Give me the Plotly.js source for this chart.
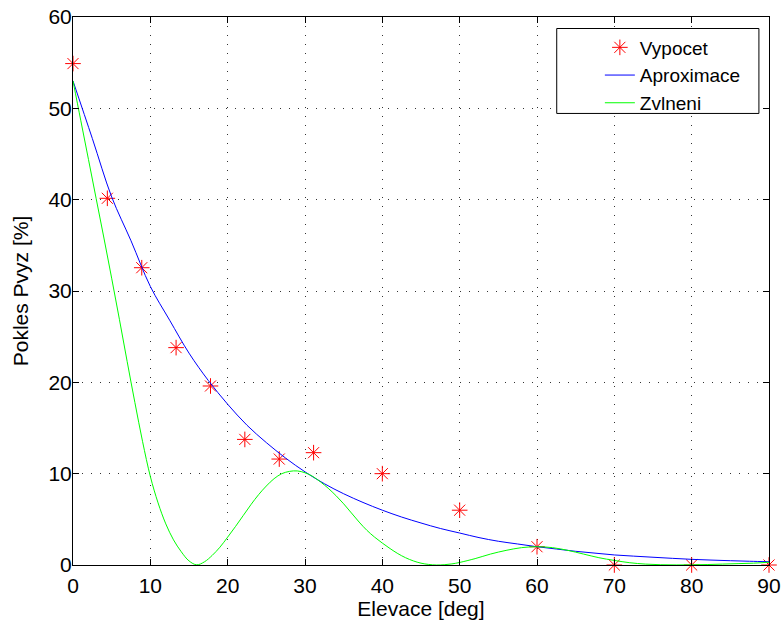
<!DOCTYPE html>
<html>
<head>
<meta charset="utf-8">
<script src="https://cdn.plot.ly/plotly-3.0.1.min.js"></script>
<style>html,body{margin:0;padding:0;background:#fff;}#chart{width:781px;height:622px;}</style>
</head>
<body>
<div id="chart"></div>
<script>
// Computed points (Vypocet)
var vypocetX = [0, 4.44, 8.89, 13.33, 17.78, 22.22, 26.67, 31.11, 40, 50, 60, 70, 80, 90];
var vypocetY = [54.9, 40.15, 32.55, 23.8, 19.6, 13.75, 11.6, 12.3, 10.0, 6.0, 2.0, 0, 0, 0];

// Approximation curve (Aproximace)
var aproxX = [0, 2.5, 5, 7.5, 10, 12.5, 15, 17.5, 20, 22.5, 25, 27.5, 30, 32.5, 35, 37.5, 40, 42.5, 45, 47.5, 50, 52.5, 55, 57.5, 60, 62.5, 65, 67.5, 70, 72.5, 75, 77.5, 80, 82.5, 85, 87.5, 90];
var aproxY = [53, 46.7, 40.3, 35.5, 30.5, 26.8, 23.2, 20.2, 17.6, 15.3, 13.4, 11.7, 10.2, 8.9, 7.8, 6.85, 6.0, 5.25, 4.6, 4.0, 3.5, 3.0, 2.6, 2.3, 2.0, 1.75, 1.5, 1.3, 1.1, 0.97, 0.85, 0.73, 0.62, 0.54, 0.47, 0.41, 0.36];

// Ripple curve (Zvlneni)
var zvlX = [0, 1, 2, 3, 4, 5, 6, 7, 8, 9, 10, 11, 12, 13, 14, 15, 16, 17, 18, 19, 20, 21, 22, 23, 24, 25, 26, 27, 28, 29, 30, 31, 32, 33, 34, 35, 36, 37, 38, 39, 40, 41, 42, 43, 44, 45, 46, 47, 48, 49, 50, 52, 54, 56, 58, 60, 62, 64, 66, 68, 70, 72, 74, 76, 78, 80, 82, 84, 86, 88, 90];
var zvlY = [53, 48.7, 44.4, 40.1, 35.8, 31.4, 26.9, 22.3, 17.8, 13.5, 9.7, 6.8, 4.5, 2.75, 1.45, 0.45, 0.02, 0.35, 1.05, 1.95, 3.05, 4.2, 5.4, 6.6, 7.7, 8.65, 9.45, 10.0, 10.25, 10.3, 10.1, 9.7, 9.1, 8.4, 7.6, 6.7, 5.7, 4.7, 3.8, 3.05, 2.4, 1.8, 1.25, 0.8, 0.45, 0.2, 0.06, 0.0, 0.03, 0.12, 0.28, 0.7, 1.2, 1.6, 1.9, 2.0, 1.9, 1.6, 1.2, 0.8, 0.5, 0.25, 0.1, 0.03, 0.01, 0.02, 0.05, 0.1, 0.15, 0.2, 0.3];

var xTicks = [0, 10, 20, 30, 40, 50, 60, 70, 80, 90];
var yTicks = [0, 10, 20, 30, 40, 50, 60];

var FONT = 'Liberation Sans, Arial, Helvetica, sans-serif';
var FS = 21;

var traces = [
  {x: vypocetX, y: vypocetY, mode: 'markers', type: 'scatter', name: 'Vypocet',
   marker: {symbol: 'asterisk-open', size: 13, color: '#ff0000', line: {color: '#ff0000', width: 1}},
   cliponaxis: false, legendgroup: 'a'},
  {x: aproxX, y: aproxY, mode: 'lines', type: 'scatter', name: 'Aproximace',
   line: {color: '#0000ff', width: 1, shape: 'spline', smoothing: 1}, legendgroup: 'b'},
  {x: zvlX, y: zvlY, mode: 'lines', type: 'scatter', name: 'Zvlneni',
   line: {color: '#00ff00', width: 1, shape: 'spline', smoothing: 1}, legendgroup: 'c'}
];

var axisCommon = {
  showline: true, linecolor: '#000', linewidth: 1, mirror: 'ticks',
  ticks: 'inside', ticklen: 6, tickcolor: '#000', tickwidth: 1,
  showgrid: true, gridcolor: '#333', gridwidth: 1, griddash: '1px,8px',
  zeroline: false, tickfont: {family: FONT, size: FS, color: '#000'}
};

var layout = {
  width: 781, height: 622,
  margin: {l: 73, r: 12, t: 17, b: 57},
  paper_bgcolor: '#fff', plot_bgcolor: '#fff',
  font: {family: FONT, size: FS, color: '#000'},
  showlegend: true,
  xaxis: Object.assign({}, axisCommon, {
    range: [0, 90], tickvals: xTicks, ticktext: xTicks.map(String),
    ticklabelstandoff: 2,
    title: {text: 'Elevace [deg]', font: {family: FONT, size: FS, color: '#000'}, standoff: 2}
  }),
  yaxis: Object.assign({}, axisCommon, {
    range: [0, 60], tickvals: yTicks, ticktext: yTicks.map(String),
    ticklabelstandoff: -4,
    title: {text: 'Pokles Pvyz [%]', font: {family: FONT, size: FS, color: '#000'}, standoff: 14}
  }),
  shapes: [
    {type: 'rect', xref: 'paper', yref: 'paper', x0: 0.695, x1: 0.9855, y0: 0.824, y1: 0.979,
     fillcolor: '#fff', line: {color: '#000', width: 1}, layer: 'above'}
  ],
  legend: {
    x: 0.757, y: 0.979, xanchor: 'left', yanchor: 'top',
    bgcolor: 'rgba(0,0,0,0)', borderwidth: 0,
    font: {family: FONT, size: 19, color: '#000'},
    traceorder: 'grouped', tracegroupgap: 0
  }
};

Plotly.newPlot('chart', traces, layout, {displayModeBar: false, staticPlot: true});
</script>
</body>
</html>
